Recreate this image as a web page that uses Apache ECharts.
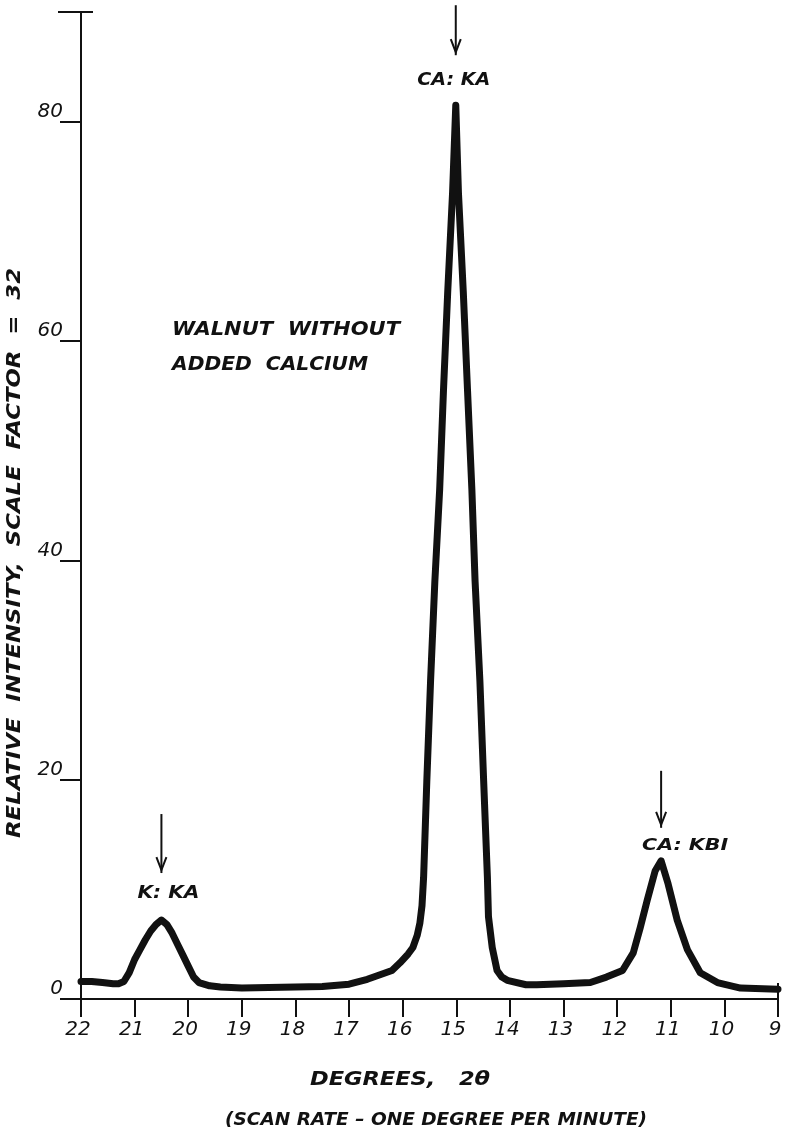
<!DOCTYPE html>
<html>
<head>
<meta charset="utf-8">
<script src="https://cdn.jsdelivr.net/npm/echarts@6/dist/echarts.min.js"></script>
<style>
  html, body { margin: 0; padding: 0; background: #fff; }
  #chart { width: 789px; height: 1134px; }
</style>
</head>
<body>
<div id="chart"></div>
<script>
// X-ray scan of walnut: intensity against 2θ (degrees), scanned from 22° down to 9°
const degrees = [
  22.0, 21.8, 21.6, 21.4, 21.3, 21.2, 21.1, 21.0, 20.9, 20.8, 20.7, 20.6, 20.5,
  20.4, 20.3, 20.2, 20.1, 20.0, 19.9, 19.8, 19.6, 19.4, 19.0, 18.5, 18.0, 17.5,
  17.0, 16.66, 16.37, 16.2, 16.05, 15.9, 15.81, 15.73, 15.68, 15.64, 15.61,
  15.55, 15.48, 15.40, 15.31, 15.24, 15.16, 15.07, 15.01, 14.96, 14.87, 14.79,
  14.71, 14.65, 14.56, 14.49, 14.42, 14.40, 14.33, 14.24, 14.15, 14.05, 13.7,
  13.5, 13.0, 12.5, 12.2, 11.9, 11.7, 11.57, 11.44, 11.29, 11.18, 11.05, 10.88,
  10.69, 10.45, 10.13, 9.7, 9.0
];
const intensity = [
  1.6, 1.6, 1.5, 1.4, 1.4, 1.6, 2.4, 3.6, 4.5, 5.4, 6.2, 6.8, 7.2,
  6.8, 6.0, 5.0, 4.0, 3.0, 2.0, 1.5, 1.2, 1.1, 1.0, 1.05, 1.1, 1.15,
  1.35, 1.8, 2.3, 2.6, 3.3, 4.1, 4.7, 5.8, 6.9, 8.5, 11.1,
  19.9, 29.0, 38.1, 46.5, 55.4, 64.5, 73.5, 81.5, 73.5, 64.5, 55.4,
  46.5, 38.1, 29.0, 19.9, 11.1, 7.5, 4.7, 2.6, 2.0, 1.7, 1.3,
  1.3, 1.4, 1.5, 2.0, 2.6, 4.2, 6.5, 9.0, 11.7, 12.6, 10.5, 7.2,
  4.5, 2.4, 1.5, 1.0, 0.9
];
const xTicks = [22, 21, 20, 19, 18, 17, 16, 15, 14, 13, 12, 11, 10, 9];
const yTicks = [0, 20, 40, 60, 80];
const yTop = 90;

// Peak annotations: label text and the 2θ of the line it marks
const peakLabels = ['K: KA', 'CA: KA', 'CA: KBI'];
const peakDegrees = [20.5, 15.01, 11.18];

const FONT = '"DejaVu Sans", "Liberation Sans", sans-serif';
const WEIGHT = 'bold';
const INK = '#111';

const chart = echarts.init(document.getElementById('chart'), null, { renderer: 'canvas' });

chart.setOption({
  animation: false,
  backgroundColor: '#fff',
  grid: { left: 81, right: 11, top: 12, bottom: 135 },
  xAxis: {
    type: 'value', min: 9, max: 22, interval: 1, inverse: true,
    axisLine: { show: true, lineStyle: { color: INK, width: 2 } },
    axisTick: { show: true, length: 18, lineStyle: { color: INK, width: 2 }, customValues: xTicks },
    axisLabel: {
      customValues: xTicks, margin: 21, color: INK, fontSize: 20,
      fontStyle: 'italic', fontFamily: FONT, padding: [0, 6, 0, 0]
    },
    splitLine: { show: false }
  },
  yAxis: {
    type: 'value', min: 0, max: yTop, interval: 20,
    axisLine: { show: true, lineStyle: { color: INK, width: 2 } },
    axisTick: { show: true, length: 21, lineStyle: { color: INK, width: 2 }, customValues: yTicks },
    axisLabel: {
      customValues: yTicks, margin: 18, color: INK, fontSize: 20,
      fontStyle: 'italic', fontFamily: FONT, verticalAlign: 'bottom'
    },
    splitLine: { show: false }
  },
  series: [{
    type: 'line',
    data: degrees.map((d, i) => [d, intensity[i]]),
    showSymbol: false,
    smooth: false,
    lineStyle: { color: INK, width: 7, join: 'round', cap: 'round' }
  }]
});

// Text width helper so the hand-lettered captions can be stretched to their widths
const measureCtx = document.createElement('canvas').getContext('2d');
function textWidth(text, size) {
  measureCtx.font = 'italic ' + WEIGHT + ' ' + size + 'px ' + FONT;
  return measureCtx.measureText(text).width;
}
function caption(text, cx, cy, size, width, rotation) {
  return {
    type: 'text', x: cx, y: cy, rotation: rotation || 0,
    scaleX: width ? width / textWidth(text, size) : 1,
    style: {
      text: text, x: 0, y: 0, align: 'center', verticalAlign: 'middle',
      fill: INK, fontSize: size, fontStyle: 'italic', fontWeight: WEIGHT, fontFamily: FONT
    },
    silent: true
  };
}
function arrow(x, y0, y1) {
  return [
    { type: 'line', shape: { x1: x, y1: y0, x2: x, y2: y1 }, style: { stroke: INK, lineWidth: 2 } },
    { type: 'polyline', shape: { points: [[x - 5, y1 - 16], [x, y1 - 3], [x + 5, y1 - 16]] },
      style: { stroke: INK, lineWidth: 2, fill: null } }
  ];
}

const px = (d, v) => chart.convertToPixel({ gridIndex: 0 }, [d, v]);
const els = [];

// Cap on top of the intensity axis and the end mark at 9°
const axisTop = px(22, yTop);
els.push({ type: 'line', shape: { x1: axisTop[0] - 23, y1: axisTop[1], x2: axisTop[0] + 12, y2: axisTop[1] },
  style: { stroke: INK, lineWidth: 2 } });
const endMark = px(9, 0);
els.push({ type: 'line', shape: { x1: endMark[0], y1: endMark[1], x2: endMark[0], y2: endMark[1] - 16 },
  style: { stroke: INK, lineWidth: 2 } });

// Peak arrows and labels (label offset from the peak, arrow above the label)
const labelStyle = [
  { size: 17, width: 62, dx: 7, dy: -26, a0: -106, a1: -47 },
  { size: 17, width: 73, dx: -2, dy: -25, a0: -100, a1: -50 },
  { size: 16, width: 86, dx: 24, dy: -15, a0: -90, a1: -33 }
];
peakLabels.forEach((label, i) => {
  const d = peakDegrees[i];
  const v = intensity[degrees.indexOf(d)];
  const p = px(d, v);
  const s = labelStyle[i];
  els.push(caption(label, p[0] + s.dx, p[1] + s.dy, s.size, s.width));
  els.push(...arrow(p[0], p[1] + s.a0, p[1] + s.a1));
});

// Sample description
els.push(caption('WALNUT  WITHOUT', 286, 330, 19, 228));
els.push(caption('ADDED  CALCIUM', 270, 365, 19, 196));

// Axis titles
els.push(caption('DEGREES,   2θ', 400, 1080, 20, 180));
els.push(caption('(SCAN RATE – ONE DEGREE PER MINUTE)', 436, 1121, 17, 422));
els.push(caption('RELATIVE  INTENSITY,  SCALE  FACTOR  =  32', 15, 553, 20, 570, Math.PI / 2));

chart.setOption({ graphic: { elements: els } });
</script>
</body>
</html>
